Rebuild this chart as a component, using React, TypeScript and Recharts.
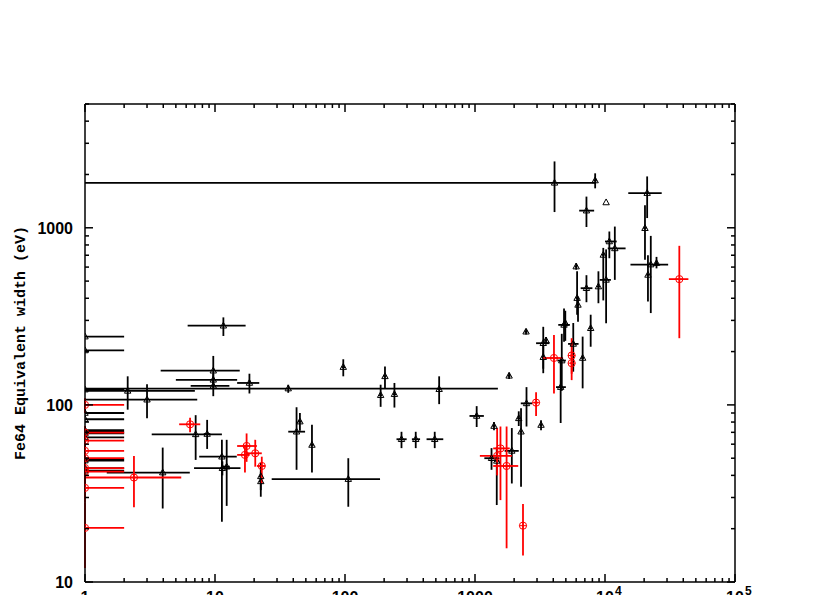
import React from "react";
import { ScatterChart, Scatter, XAxis, YAxis, ErrorBar } from "recharts";

// each point: [x, y, xLow, xHigh, yLow, yHigh]
type Pt = [number, number, number, number, number, number];

// black: upper limits drawn at x = 1
const blackLimits: Pt[] = [
  [1, 243, 1, 2, 243, 243],
  [1, 203, 1, 2, 203, 203],
  [1, 122, 1, 2, 122, 122],
  [1, 90, 1, 2, 90, 90],
  [1, 83, 1, 2, 83, 83],
  [1, 72, 1, 2, 72, 72],
  [1, 70.5, 1, 2, 70.5, 70.5],
  [1, 69, 1, 2, 69, 69],
  [1, 65.5, 1, 2, 65.5, 65.5],
  [1, 49.3, 1, 2, 49.3, 49.3],
  [1, 48.5, 1, 2, 48.5, 48.5],
  [1, 44, 1, 2, 44, 44],
  [1, 42.5, 1, 2, 42.5, 42.5],
];

// black: low band, x < 1200
const blackLow: Pt[] = [
  [2.13, 120, 1, 7.0, 94, 145],
  [3.0, 107, 1, 7.3, 84, 131],
  [3.96, 41.5, 1.47, 6.4, 26, 57.4],
  [7.1, 68.2, 3.26, 11.3, 48.9, 87.5],
  [8.7, 68.5, 8.2, 9.2, 56.4, 82.3],
  [11.6, 280, 6.16, 17.2, 245, 312],
  [9.7, 156, 3.82, 15.5, 126, 189],
  [9.7, 138.6, 5.0, 14.8, 125, 150],
  [9.7, 128, 6.5, 12.9, 112, 141],
  [18.4, 133, 14.8, 21.9, 116, 150],
  [36.6, 123.7, 1, 1500, 117, 130],
  [11.3, 51, 7.56, 14.7, 21.9, 63.5],
  [11.4, 43.9, 6.9, 15.7, 40, 48],
  [12.3, 44.8, 11.5, 13, 26.9, 63.5],
  [22.5, 39.5, 21.8, 23.2, 30.3, 47],
  [22.5, 37, 21.8, 23.2, 33, 42],
  [106, 38.1, 27.3, 186, 26.6, 50],
  [97, 163.5, 94, 100, 145, 181],
  [203, 145, 197, 209, 124, 165],
  [188, 113.5, 183, 193, 97.5, 130],
  [240, 115, 233, 247, 96.6, 133],
  [530, 122.7, 515, 545, 101, 145],
  [42.4, 70.6, 36.6, 49.3, 43, 97],
  [45, 80.5, 43.5, 46.5, 71.5, 90],
  [55.7, 59.4, 54, 57.5, 41.5, 77.2],
  [272, 64, 249, 298, 57, 70.5],
  [350, 64, 327, 378, 57, 70.5],
  [490, 64, 424, 570, 57, 70.5],
  [1030, 86.6, 907, 1170, 75, 98.4],
];

// black: rising branch, x > 1200
const blackHigh: Pt[] = [
  [1830, 146, 1780, 1880, 140, 152],
  [1400, 76, 1360, 1440, 72, 80],
  [3220, 77, 3130, 3310, 72, 82],
  [1340, 50, 1180, 1530, 43, 57],
  [1470, 48.3, 1400, 1540, 27.2, 58],
  [1920, 55, 1690, 2170, 36, 74],
  [2260, 70.6, 2200, 2320, 34.5, 95.6],
  [2170, 84, 2110, 2230, 76, 92],
  [2490, 102, 2250, 2750, 75.5, 126],
  [4090, 1795, 1, 8400, 1227, 2370],
  [8400, 1850, 8150, 8650, 1670, 2030],
  [10200, 1390, 10200, 10200, 1390, 1390],
  [7200, 1250, 6330, 8250, 1010, 1500],
  [21100, 1570, 15100, 27300, 1135, 1950],
  [20300, 995, 19700, 20900, 659, 1340],
  [21400, 542, 20800, 22000, 383, 700],
  [22500, 620, 15700, 30600, 330, 900],
  [24900, 632, 24200, 25600, 590, 685],
  [10800, 837, 10000, 12300, 673, 953],
  [11900, 765, 10500, 14400, 508, 1016],
  [9700, 703, 9450, 9950, 389, 770],
  [10200, 508, 9100, 11100, 289, 755],
  [8900, 466, 8650, 9150, 375, 568],
  [7760, 271, 7550, 7970, 213, 323],
  [7200, 456, 6500, 8000, 380, 540],
  [6000, 604, 5850, 6150, 580, 630],
  [6100, 401, 5950, 6250, 323, 568],
  [6200, 367, 6050, 6350, 295, 408],
  [4840, 283, 4370, 5370, 227, 350],
  [4950, 290, 4820, 5080, 230, 340],
  [5700, 221, 5200, 6260, 154, 290],
  [6730, 184, 6550, 6900, 124, 243],
  [3350, 223, 2950, 3740, 151, 276],
  [3520, 231, 3430, 3610, 220, 242],
  [3350, 186, 3260, 3440, 160, 215],
  [4650, 178, 4300, 5000, 120, 252],
  [4560, 126, 4200, 5000, 79, 179],
  [2470, 259, 2400, 2540, 250, 268],
];

const redLimits: Pt[] = [
  [1, 100, 1, 2, 90, 109],
  [1, 69.8, 1, 2, 64, 76],
  [1, 62.8, 1, 2, 57, 69],
  [1, 55, 1, 2, 50, 61],
  [1, 50, 1, 2, 46, 55],
  [1, 44, 1, 2, 40, 49],
  [1, 42, 1, 2, 36, 46],
  [1, 34, 1, 2, 28, 40],
  [1, 20.2, 1, 2, 12, 28],
];

const redPoints: Pt[] = [
  [2.38, 38.9, 1, 5.5, 26.4, 51.5],
  [6.43, 77.7, 5.3, 7.7, 70, 84.5],
  [17.5, 58.6, 14.8, 21, 47.7, 69],
  [17.0, 52.2, 14.8, 18.5, 41.5, 59.5],
  [20.4, 53.3, 17.5, 22.9, 44.8, 63.5],
  [22.9, 45.2, 21, 24.2, 36, 51],
  [1570, 56.8, 1380, 1850, 29, 75.5],
  [1480, 51.5, 1090, 1920, 40, 74],
  [1750, 45.2, 1380, 2150, 15.5, 75.5],
  [2340, 20.8, 2300, 2380, 14.1, 27.6],
  [2950, 103, 2850, 3050, 86.6, 118],
  [4050, 184, 3350, 4760, 116, 248],
  [5540, 190, 5400, 5700, 138, 238],
  [5540, 172, 5400, 5700, 150, 200],
  [37300, 513, 31000, 43800, 238, 791],
];

const X_MAJOR = [1, 10, 100, 1000, 10000, 100000];
const Y_MAJOR = [10, 100, 1000];
const STEPS = [1, 2, 3, 4, 5, 6, 7, 8, 9];
const xTicks = [...X_MAJOR.slice(0, -1).flatMap((d) => STEPS.map((k) => k * d)), 100000];
const yTicks = [...[10, 100].flatMap((d) => STEPS.map((k) => k * d)), 1000, 2000, 3000, 4000, 5000];

const toRows = (pts: Pt[]) =>
  pts.map(([x, y, xLo, xHi, yLo, yHi]) => ({ x, y, ex: [x - xLo, xHi - x], ey: [y - yLo, yHi - y] }));

const blackData = toRows([...blackLimits, ...blackLow, ...blackHigh]);
const redData = toRows([...redLimits, ...redPoints]);

const labelFont = "'Liberation Sans', Arial, sans-serif";
const isMajor = (list: number[], v: number) => list.some((m) => Math.abs(m - v) < 1e-9);

function BottomTick({ x, y, payload }: any) {
  const v = payload.value;
  const major = isMajor(X_MAJOR, v);
  let label: React.ReactNode = null;
  if (major) {
    if (v >= 10000) {
      label = (
        <>
          <text x={x} y={y + 21} textAnchor="middle" fontFamily={labelFont} fontWeight="bold" fontSize={16}>10</text>
          <text x={x + 10} y={y + 13} textAnchor="start" fontFamily={labelFont} fontWeight="bold" fontSize={12}>
            {v === 10000 ? "4" : "5"}
          </text>
        </>
      );
    } else {
      label = (
        <text x={x} y={y + 21} textAnchor="middle" fontFamily={labelFont} fontWeight="bold" fontSize={16}>
          {String(v)}
        </text>
      );
    }
  }
  return (
    <g>
      <line x1={x} x2={x} y1={y} y2={y - (major ? 8 : 4)} stroke="#000" strokeWidth={1.5} />
      {label}
    </g>
  );
}

function TopTick({ x, y, payload }: any) {
  const major = isMajor(X_MAJOR, payload.value);
  return <line x1={x} x2={x} y1={y} y2={y + (major ? 8 : 4)} stroke="#000" strokeWidth={1.5} />;
}

function LeftTick({ x, y, payload }: any) {
  const v = payload.value;
  const major = isMajor(Y_MAJOR, v);
  return (
    <g>
      <line x1={x} x2={x + (major ? 8 : 4)} y1={y} y2={y} stroke="#000" strokeWidth={1.5} />
      {major && (
        <text x={x - 12} y={y + 6} textAnchor="end" fontFamily={labelFont} fontWeight="bold" fontSize={16}>
          {String(v)}
        </text>
      )}
    </g>
  );
}

function RightTick({ x, y, payload }: any) {
  const major = isMajor(Y_MAJOR, payload.value);
  return <line x1={x} x2={x - (major ? 8 : 4)} y1={y} y2={y} stroke="#000" strokeWidth={1.5} />;
}

const Triangle = (p: any) => (
  <path
    d={`M${p.cx},${p.cy - 3.5} L${p.cx + 3.2},${p.cy + 2.3} L${p.cx - 3.2},${p.cy + 2.3} Z`}
    fill="none"
    stroke="#000"
    strokeWidth={1}
  />
);

const CrossCircle = (p: any) => (
  <g stroke="#ff0000" strokeWidth={1} fill="none">
    <circle cx={p.cx} cy={p.cy} r={3.6} />
    <line x1={p.cx - 3.6} x2={p.cx + 3.6} y1={p.cy} y2={p.cy} />
    <line x1={p.cx} x2={p.cx} y1={p.cy - 3.6} y2={p.cy + 3.6} />
  </g>
);

const YTitle = ({ viewBox }: any) => {
  const cx = viewBox.x + viewBox.width - 60;
  const cy = viewBox.y + viewBox.height / 2;
  return (
    <text
      x={cx}
      y={cy}
      transform={`rotate(-90 ${cx} ${cy})`}
      textAnchor="middle"
      fontFamily="'Liberation Mono', 'DejaVu Sans Mono', monospace"
      fontWeight="bold"
      fontSize={15}
    >
      Fe64 Equivalent width (eV)
    </text>
  );
};

const axisLine = { stroke: "#000", strokeWidth: 1.5 };

export default function App() {
  return (
    <div style={{ width: 830, height: 595, background: "#fff" }}>
      <style>{"body{margin:0}"}</style>
      <ScatterChart width={830} height={595} margin={{ top: 103, right: 94, bottom: 12, left: 84 }}>
        <XAxis
          xAxisId="b"
          dataKey="x"
          type="number"
          scale="log"
          domain={[1, 100000]}
          allowDataOverflow
          ticks={xTicks}
          interval={0}
          height={1}
          tickSize={0}
          tickMargin={0}
          tickLine={false}
          axisLine={axisLine}
          tick={<BottomTick />}
        />
        <XAxis
          xAxisId="t"
          orientation="top"
          dataKey="x"
          type="number"
          scale="log"
          domain={[1, 100000]}
          allowDataOverflow
          ticks={xTicks}
          interval={0}
          height={1}
          tickSize={0}
          tickMargin={0}
          tickLine={false}
          axisLine={axisLine}
          tick={<TopTick />}
        />
        <YAxis
          yAxisId="l"
          dataKey="y"
          type="number"
          scale="log"
          domain={[10, 5000]}
          allowDataOverflow
          ticks={yTicks}
          interval={0}
          width={1}
          tickSize={0}
          tickMargin={0}
          tickLine={false}
          axisLine={axisLine}
          tick={<LeftTick />}
          label={{ content: <YTitle /> }}
        />
        <YAxis
          yAxisId="r"
          orientation="right"
          dataKey="y"
          type="number"
          scale="log"
          domain={[10, 5000]}
          allowDataOverflow
          ticks={yTicks}
          interval={0}
          width={1}
          tickSize={0}
          tickMargin={0}
          tickLine={false}
          axisLine={axisLine}
          tick={<RightTick />}
        />
        <Scatter data={blackData} xAxisId="b" yAxisId="l" shape={Triangle} isAnimationActive={false}>
          <ErrorBar dataKey="ex" direction="x" width={0} stroke="#000" strokeWidth={1.8} isAnimationActive={false} />
          <ErrorBar dataKey="ey" direction="y" width={0} stroke="#000" strokeWidth={1.8} isAnimationActive={false} />
        </Scatter>
        <Scatter data={redData} xAxisId="b" yAxisId="l" shape={CrossCircle} isAnimationActive={false}>
          <ErrorBar dataKey="ex" direction="x" width={0} stroke="#ff0000" strokeWidth={1.8} isAnimationActive={false} />
          <ErrorBar dataKey="ey" direction="y" width={0} stroke="#ff0000" strokeWidth={1.8} isAnimationActive={false} />
        </Scatter>
        <Scatter data={[]} xAxisId="t" yAxisId="r" isAnimationActive={false} />
      </ScatterChart>
    </div>
  );
}
